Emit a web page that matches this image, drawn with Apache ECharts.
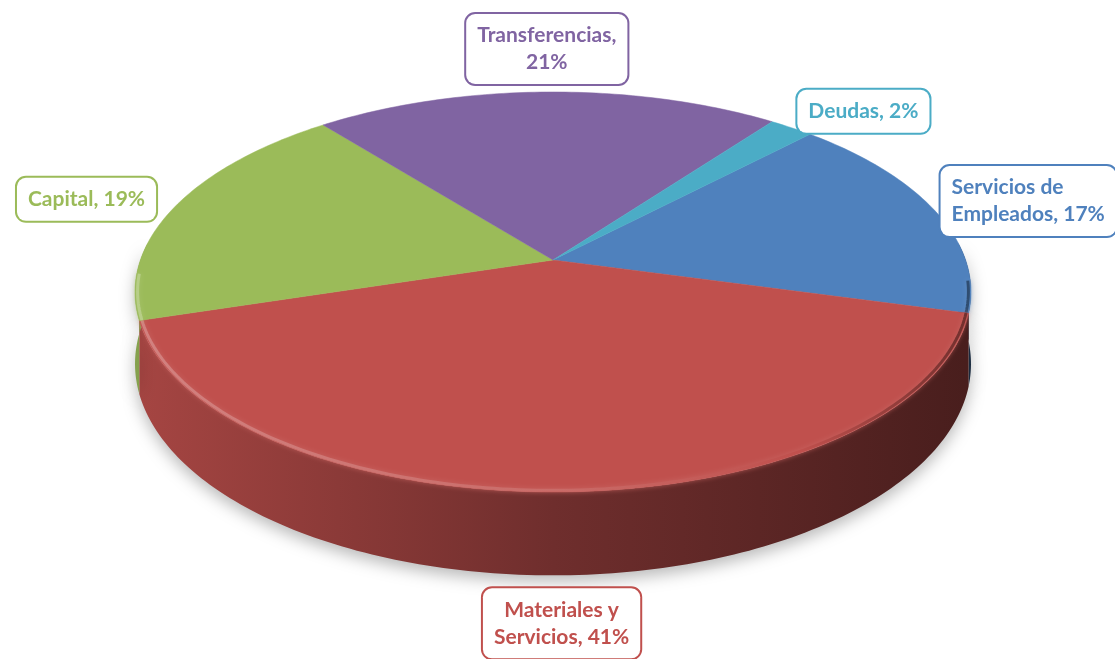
<!DOCTYPE html>
<html>
<head>
<meta charset="utf-8">
<script src="https://cdn.jsdelivr.net/npm/echarts@6/dist/echarts.min.js"></script>
<style>
  html, body { margin: 0; padding: 0; background: #fff; }
  #chart { width: 1115px; height: 659px; }
</style>
</head>
<body>
<div id="chart"></div>
<script>
// data
var categories = ['Servicios de Empleados', 'Materiales y Servicios', 'Capital', 'Transferencias', 'Deudas']
var values = [17, 41, 19, 21, 2]
var colors = ['#4f81bd', '#c0504d', '#9bbb59', '#8064a2', '#4bacc6']

// 3d look: a tilted disc seen in perspective
var START = 44          // first slice angle, clockwise from 12 o'clock
var CX = 553, CY = 260  // where the slices meet
var RX = 412.6, RY = 153.3, K = -0.16, DEPTH = 70

var FONT_SIZE = 21, LINE_H = 27, PAD = [8, 11]

var total = values.reduce(function (s, v) { return s + v }, 0)
var starts = []
values.reduce(function (acc, v, i) {
  starts[i] = acc
  return acc + v / total * 360
}, START)

function proj(deg, r, down) {
  var a = deg * Math.PI / 180
  var u = Math.sin(a) * r, v = -Math.cos(a) * r
  var w = 1 + K * v
  return [CX + RX * u / w, (RY * v + CY + (down || 0)) / w]
}

function arc(a0, a1, r, down) {
  var n = Math.max(2, Math.ceil(Math.abs(a1 - a0)))
  var pts = []
  for (var k = 0; k <= n; k++) {
    pts.push(proj(a0 + (a1 - a0) * k / n, r, down))
  }
  return pts
}

function range(i) {
  var a0 = starts[i], a1 = a0 + values[i] / total * 360
  if (a0 >= 360) { a0 -= 360; a1 -= 360 }
  return [a0, a1]
}

function mix(hex, f, toWhite) {
  var n = parseInt(hex.slice(1), 16)
  var ch = [(n >> 16) & 255, (n >> 8) & 255, n & 255].map(function (x) {
    return Math.round(toWhite ? x + (255 - x) * f : x * f)
  })
  return 'rgb(' + ch.join(',') + ')'
}

function wrap(text, max) {
  var words = text.split(' ')
  var lines = [words[0]]
  for (var i = 1; i < words.length; i++) {
    var last = lines[lines.length - 1]
    if ((last + ' ' + words[i]).length > max) lines.push(words[i])
    else lines[lines.length - 1] = last + ' ' + words[i]
  }
  return lines
}

var chart = echarts.init(document.getElementById('chart'))

var seriesData = values.map(function (v, i) {
  return { name: categories[i], value: [v, i] }
})

chart.setOption({
  animation: false,
  series: [
    {
      // side walls
      type: 'custom',
      coordinateSystem: 'none',
      data: seriesData,
      silent: true,
      renderItem: function (params, api) {
        var i = params.dataIndex
        var r = range(i)
        var a0 = Math.max(r[0], 85), a1 = Math.min(r[1], 275)
        if (a1 <= a0) return { type: 'group', children: [] }
        var top = arc(a0, a1, 1, 0)
        var bottom = arc(a0, a1, 1, DEPTH).reverse()
        var c = colors[i]
        return {
          type: 'polygon',
          shape: { points: top.concat(bottom) },
          style: {
            fill: new echarts.graphic.LinearGradient(CX - RX, 0, CX + RX, 0, [
              { offset: 0, color: mix(c, 0.86) },
              { offset: 0.5, color: mix(c, 0.58) },
              { offset: 1, color: mix(c, 0.38) },
            ], true),
            shadowBlur: 16,
            shadowColor: 'rgba(0,0,0,0.28)',
            shadowOffsetY: 6,
          },
        }
      },
    },
    {
      // top faces and labels
      type: 'custom',
      coordinateSystem: 'none',
      data: seriesData,
      renderItem: function (params, api) {
        var i = params.dataIndex
        var r = range(i)
        var c = colors[i]
        var children = []
        children.push({
          type: 'polygon',
          shape: { points: [proj(0, 0, 0)].concat(arc(r[0], r[1], 1, 0)) },
          style: { fill: c, stroke: c, lineWidth: 0.5 },
        })
        // soft bevel along the front edge
        var b0 = Math.max(r[0], 96), b1 = Math.min(r[1], 266)
        if (b1 > b0) {
          children.push({
            type: 'polyline',
            shape: { points: arc(b0, b1, 0.994, 0) },
            style: {
              fill: null,
              stroke: new echarts.graphic.LinearGradient(CX - RX, 0, CX + RX, 0, [
                { offset: 0, color: mix(c, 0.28, true) },
                { offset: 0.5, color: mix(c, 0.16, true) },
                { offset: 0.8, color: c },
                { offset: 1, color: mix(c, 0.6) },
              ], true),
              lineWidth: 3,
              shadowBlur: 5,
              shadowColor: mix(c, 0.12, true),
            },
          })
        }
        // label
        var mid = (r[0] + r[1]) / 2
        var s = Math.sin(mid * Math.PI / 180), co = Math.cos(mid * Math.PI / 180)
        var p = proj(mid, 1, co < 0 ? DEPTH : 0)
        var pct = Math.round(api.value(0) / total * 100)
        var lines = wrap(categories[i] + ', ' + pct + '%', 14)
        var h = lines.length * LINE_H + PAD[0] * 2
        var gap = 12
        var align, valign, lx, ly
        if (Math.abs(s) > 0.3) {
          align = s > 0 ? 'left' : 'right'
          valign = 'middle'
          lx = p[0] + (s > 0 ? gap - 6 : -gap - 8)
          ly = p[1] - co * h / 2
        } else {
          align = 'center'
          valign = co > 0 ? 'bottom' : 'top'
          lx = p[0]
          ly = p[1] + (co > 0 ? -8 : 13)
        }
        children.push({
          type: 'text',
          x: lx,
          y: ly,
          z2: 100,
          style: {
            text: lines.join('\n'),
            fill: c,
            fontFamily: 'Lato, "Open Sans", sans-serif',
            fontWeight: 'bold',
            fontSize: FONT_SIZE,
            lineHeight: LINE_H,
            align: align,
            verticalAlign: valign,
            backgroundColor: '#fff',
            borderColor: c,
            borderWidth: 2,
            borderRadius: 9,
            padding: PAD,
          },
        })
        return { type: 'group', children: children }
      },
    },
  ],
})
</script>
</body>
</html>
